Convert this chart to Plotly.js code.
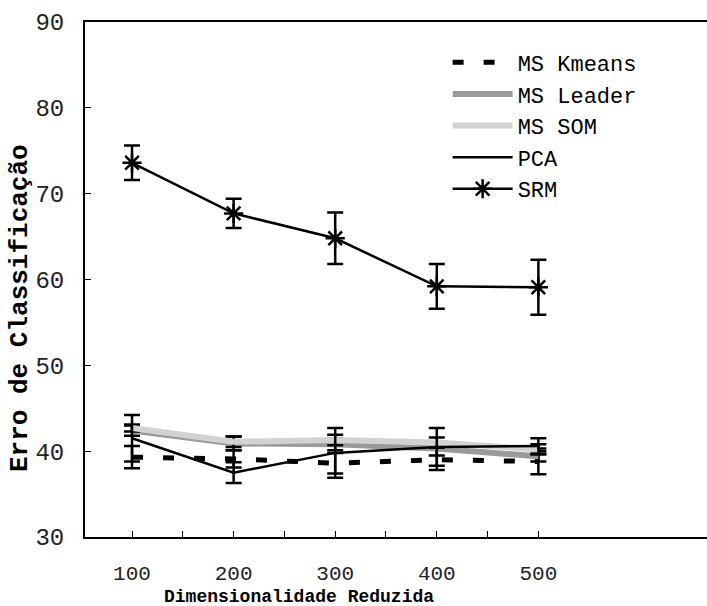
<!DOCTYPE html>
<html><head><meta charset="utf-8">
<script src="https://cdn.plot.ly/plotly-3.0.1.min.js"></script>
<style>body{margin:0;background:#fff}</style>
</head><body><div id="chart" style="width:707px;height:606px"></div>
<script>
const dims = [100, 200, 300, 400, 500];
const kmeans = [39.3, 39.1, 38.6, 39.0, 38.8];
const kmeansErr = [1.3, 1.0, 1.2, 1.2, 1.5];
const leader = [42.4, 40.9, 40.8, 40.3, 39.4];
const leaderErr = [0.6, 0.8, 0.7, 0.8, 0.6];
const som = [42.7, 41.1, 41.3, 41.0, 40.2];
const somErr = [0.4, 0.6, 0.6, 0.6, 0.6];
const pca = [41.5, 37.5, 39.8, 40.5, 40.6];
const pcaErr = [2.7, 1.2, 2.9, 2.2, 0.9];
const srm = [73.6, 67.7, 64.8, 59.2, 59.1];
const srmErr = [2.0, 1.7, 3.0, 2.6, 3.2];
const names = ['MS Kmeans', 'MS Leader', 'MS SOM', 'PCA', 'SRM'];
const xTickVals = [100, 150, 200, 250, 300, 350, 400, 450, 500];
const xTickText = ['100', '', '200', '', '300', '', '400', '', '500'];
const xTitle = 'Dimensionalidade Reduzida';
const yTitle = 'Erro de Classificação';

const F = 'Liberation Mono, Courier New, monospace';
function eb(arr){return {type:'data', array:arr, visible:true, color:'#000', thickness:2.5, width:8};}
const traces = [
  {x:dims, y:kmeans, name:names[0], mode:'lines', line:{color:'#000', width:5, dash:'11px,20px'}, error_y:eb(kmeansErr)},
  {x:dims, y:leader, name:names[1], mode:'lines', line:{color:'#9a9a9a', width:6}, error_y:eb(leaderErr)},
  {x:dims, y:som, name:names[2], mode:'lines', line:{color:'#d2d2d2', width:6}, error_y:eb(somErr)},
  {x:dims, y:pca, name:names[3], mode:'lines', line:{color:'#000', width:2.5}, error_y:eb(pcaErr)},
  {x:dims, y:srm, name:names[4], mode:'lines+markers', line:{color:'#000', width:2.5},
   marker:{symbol:'asterisk-open', size:16, color:'#000', line:{color:'#000', width:2.5}}, error_y:eb(srmErr)}
];
const layout = {
  width:707, height:606,
  margin:{l:85, r:0, t:22, b:69},
  paper_bgcolor:'#fff', plot_bgcolor:'#fff',
  showlegend:true,
  legend:{x:0.583, y:0.962, xanchor:'left', yanchor:'top', bgcolor:'rgba(0,0,0,0)',
    font:{family:F, size:22, color:'#000'}, itemwidth:60, tracegroupgap:0},
  xaxis:{range:[53.7, 666], tickvals:xTickVals, ticktext:xTickText,
    ticks:'inside', ticklen:6, tickwidth:1, tickcolor:'#000',
    showline:true, linecolor:'#000', linewidth:2, mirror:true,
    showgrid:false, zeroline:false, ticklabelstandoff:16,
    tickfont:{family:F, size:21, color:'#222'}},
  yaxis:{range:[30, 90], dtick:10, ticks:'inside', ticklen:6, tickwidth:1, tickcolor:'#000',
    showline:true, linecolor:'#000', linewidth:2,
    showgrid:false, zeroline:false, ticklabelstandoff:14,
    tickfont:{family:F, size:24, color:'#222'}},
  annotations:[
    {text:'<b>'+xTitle+'</b>', xref:'paper', yref:'paper', x:(299-85)/622, y:-(597-537)/515,
     xanchor:'center', yanchor:'middle', showarrow:false, font:{family:F, size:18, color:'#000'}},
    {text:'<b>'+yTitle+'</b>', xref:'paper', yref:'paper', x:-(85-20)/622, y:(537-308)/515,
     xanchor:'center', yanchor:'middle', textangle:-90, showarrow:false, font:{family:F, size:26, color:'#000'}}
  ]
};
Plotly.newPlot('chart', traces, layout, {displayModeBar:false, staticPlot:true});
</script></body></html>
